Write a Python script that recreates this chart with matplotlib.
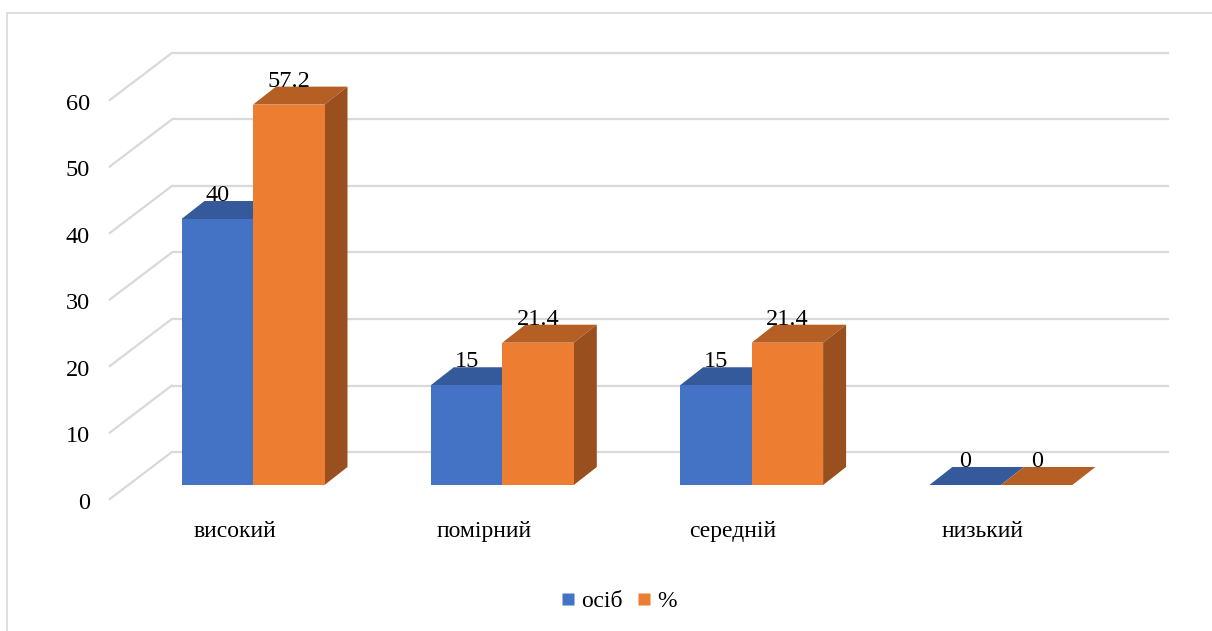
import matplotlib
matplotlib.use('Agg')
import matplotlib.pyplot as plt
from matplotlib.patches import Polygon, Rectangle
from matplotlib.lines import Line2D

plt.rcParams['font.family'] = ['Liberation Serif', 'DejaVu Serif']

categories = ['високий', 'помірний', 'середній', 'низький']
persons = [40, 15, 15, 0]
percent = [57.2, 21.4, 21.4, 0]
series_names = ['осіб', '%']
y_ticks = [0, 10, 20, 30, 40, 50, 60]

front_colors = ['#4472C4', '#ED7D31']
top_colors = ['#355A9B', '#B65F24']
side_colors = ['#2E4F88', '#9A4F1E']
grid_color = '#D9D9D9'

# pixel scale of the oblique projection (category units / value units)
px_cat = 249.3
px_val = 6.65
bar_w = 71.5 / px_cat
bar_dx, bar_dy = 23 / px_cat, 18 / px_val        # depth of each bar
wall_dx, wall_dy = 43.5 / px_cat, 33 / px_val    # bar front -> back wall
floor_dx, floor_dy = -18.5 / px_cat, -14 / px_val  # bar front -> floor front

W, H = 1212, 631
fig = plt.figure(figsize=(W / 100, H / 100), dpi=100)
ax = fig.add_axes([0, 0, 1, 1])
ax.set_xlim(-253 / px_cat, (W - 253) / px_cat)
ax.set_ylim(-(H - 485) / px_val, 485 / px_val)
ax.axis('off')

# outer chart frame
fig.patches.append(Rectangle((7 / W, -0.1), 1.2, 1 - 13 / H + 0.1,
                             transform=fig.transFigure, fill=False,
                             edgecolor=grid_color, lw=1.2))

# back wall gridlines + diagonal floor lines, tick labels
left = -0.5
right = len(categories) - 0.5
for v in y_ticks:
    ax.plot([left + wall_dx, right + wall_dx], [v + wall_dy, v + wall_dy],
            color=grid_color, lw=1.6, zorder=1, solid_capstyle='butt')
    ax.plot([left + floor_dx, left + wall_dx], [v + floor_dy, v + wall_dy],
            color=grid_color, lw=1.6, zorder=1)
    ax.text(left + floor_dx - 20 / px_cat, v + floor_dy - 2 / px_val, str(v),
            ha='right', va='center_baseline', fontsize=17.5)

# bars
for s, vals in enumerate([persons, percent]):
    xs = [i - bar_w + s * bar_w for i in range(len(vals))]
    for x0, v in zip(xs, vals):
        x1 = x0 + bar_w
        ax.add_patch(Polygon([(x0, v), (x1, v), (x1 + bar_dx, v + bar_dy),
                              (x0 + bar_dx, v + bar_dy)],
                             closed=True, facecolor=top_colors[s],
                             edgecolor='none', zorder=3 + s * 3))
        if v > 0:
            ax.add_patch(Polygon([(x1, 0), (x1, v), (x1 + bar_dx, v + bar_dy),
                                  (x1 + bar_dx, bar_dy)],
                                 closed=True, facecolor=side_colors[s],
                                 edgecolor='none', zorder=3 + s * 3))
        lbl = f'{v:g}'
        ax.text(x0 + bar_w / 2, v + bar_dy, lbl, ha='center', va='baseline',
                fontsize=17.5, zorder=10)
    ax.bar(xs, vals, width=bar_w, align='edge', color=front_colors[s],
           zorder=4 + s * 3)

# category labels
for i, c in enumerate(categories):
    ax.text(i + floor_dx, -(537 - 485) / px_val, c, ha='center', va='baseline',
            fontsize=17)

handles = [Line2D([], [], marker='s', ls='none', markersize=8.6,
                  markerfacecolor=front_colors[k], markeredgecolor='none')
           for k in range(2)]
fig.legend(handles, series_names, loc='center',
           bbox_to_anchor=(619 / W, 1 - 601 / H), ncol=2, frameon=False,
           fontsize=17, handlelength=0.6, handletextpad=0.25,
           columnspacing=0.6)

fig.savefig('out.png', dpi=100)
